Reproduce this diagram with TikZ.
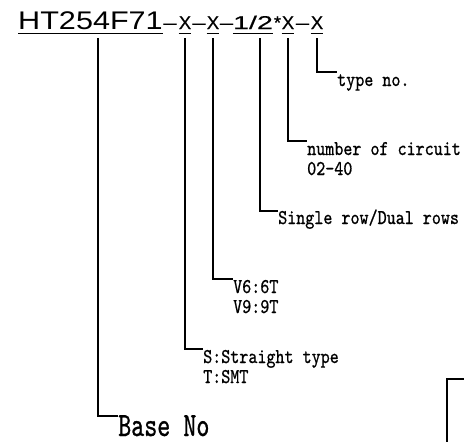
\documentclass[tikz,border=0pt]{standalone}
\usepackage{fontspec}
\newfontfamily\ttlfont[FakeStretch=1.2]{Liberation Sans}
\newfontfamily\sufffont[FakeBold=0.4]{Liberation Sans}
\newfontfamily\labff[FakeStretch=0.82,FakeBold=0.8]{lmmono10-regular.otf}
\newfontfamily\bigff[FakeStretch=0.73,FakeBold=0.8]{lmmono10-regular.otf}
\newcommand{\labfont}{\labff\fontsize{21}{22}\selectfont}
\newcommand{\bigfont}{\bigff\fontsize{34}{36}\selectfont}
\begin{document}
\begin{tikzpicture}[x=1pt,y=-1pt,
  ln/.style={line width=1.6pt},
  ul/.style={line width=1.6pt},
  tok/.style={inner sep=0pt, anchor=base, font=\sufffont\fontsize{18.5}{19}\selectfont},
  lbl/.style={inner sep=0pt, anchor=base west, font=\labfont},
  big/.style={inner sep=0pt, anchor=base west, font=\bigfont}]
\useasboundingbox (0,0) rectangle (464,442);
% title
\node[inner sep=0pt, anchor=base west, font=\ttlfont\fontsize{25.5}{27}\selectfont] (tt) at (18,29) {HT254F71};
\node[tok] (d1) at (170,29) {\scalebox{1.3}[1]{\textendash}};
\node[tok] (x1) at (185,29) {X};
\node[tok] (d2) at (199,29) {\scalebox{1.3}[1]{\textendash}};
\node[tok] (x2) at (213,29) {X};
\node[tok] (d3) at (226.5,29) {\scalebox{1.3}[1]{\textendash}};
\node[tok] (hf) at (253,29) {\scalebox{1.55}[1]{1/2}};
\node[tok] (st) at (277.5,29) {*};
\node[tok] (x3) at (288,29) {X};
\node[tok] (d4) at (302.5,29) {\scalebox{1.3}[1]{\textendash}};
\node[tok] (x4) at (317,29) {X};
% underlines
\draw[ul] ([yshift=-4.5pt]tt.base west) -- ([yshift=-4.5pt]tt.base east);
\foreach \n in {x1,x2,x3,x4,hf}
  \draw[ul] ([yshift=-4.5pt]\n.base west) -- ([yshift=-4.5pt]\n.base east);
% corners
\coordinate (t0) at (0,38);
\coordinate (kB) at (98,416);
\coordinate (kS) at (185,349);
\coordinate (kV) at (213,279);
\coordinate (kH) at (260,211);
\coordinate (kN) at (288,141);
\coordinate (kT) at (317,72);
% labels
\node[lbl] (lT) at (337,86) {type no.};
\node[lbl] (lN) at (307,155) {number of circuit};
\node[lbl] (lN2) at (307,175) {02-40};
\node[lbl] (lH) at (278,224) {Single row/Dual rows};
\node[lbl] (lV) at (233,293) {V6:6T};
\node[lbl] (lV2) at (233,313) {V9:9T};
\node[lbl] (lS) at (203,363) {S:Straight type};
\node[lbl] (lS2) at (203,383) {T:SMT};
\node[big] (lB) at (118,436) {Base No};
% connectors
\draw[ln] (kB |- t0) -- (kB) -- (kB -| lB.west);
\draw[ln] (x1.south |- t0) -- (kS) -- (kS -| lS.west);
\draw[ln] (x2.south |- t0) -- (kV) -- (kV -| lV.west);
\draw[ln] (kH |- t0) -- (kH) -- (kH -| lH.west);
\draw[ln] (x3.south |- t0) -- (kN) -- (kN -| lN.west);
\draw[ln] (x4.south |- t0) -- (kT) -- (kT -| lT.west);
% box corner bottom right
\coordinate (bc) at (447,379);
\draw[line width=2pt] (447,443) -- (bc) -- (465,379);
\end{tikzpicture}
\end{document}
